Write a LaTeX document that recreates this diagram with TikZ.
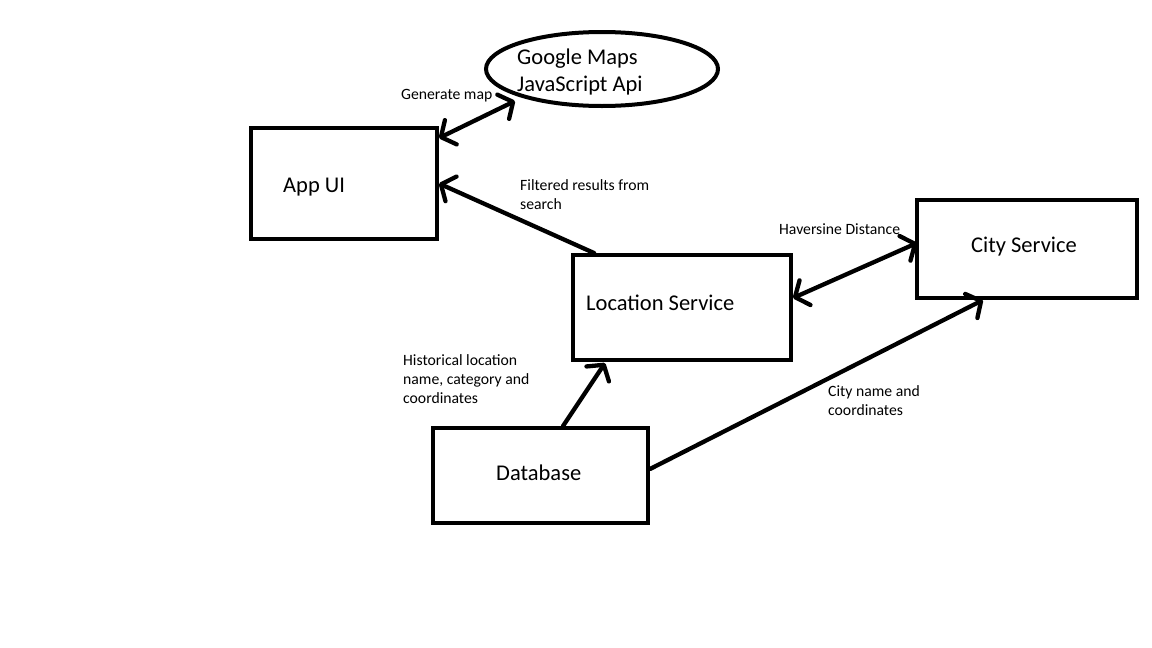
\documentclass[tikz,border=0pt]{standalone}
\usepackage{fontspec}
\setmainfont{Carlito}
\usetikzlibrary{arrows.meta,calc,shapes.geometric}
\begin{document}
\begin{tikzpicture}[x=1pt,y=-1pt,
  boxnode/.style={draw,line width=4pt,rectangle,inner sep=0pt},
  maintext/.style={anchor=west,inner sep=0pt,font=\fontsize{22.5}{27}\selectfont,align=left},
  lbl/.style={anchor=west,inner sep=0pt,font=\fontsize{15.7}{19}\selectfont,align=left},
  conn/.style={line width=4.3pt,line cap=round,line join=round},
  tip/.tip={Straight Barb[length=11pt,width=27pt,line width=4.3pt,round]}]
\useasboundingbox (0,0) rectangle (1152,648);
\fill[white] (0,0) rectangle (1152,648);
% boxes
\node[boxnode,minimum width=186pt,minimum height=111pt] (appui) at (344,183.5) {};
\node[boxnode,minimum width=218pt,minimum height=105pt] (loc) at (682,307.5) {};
\node[boxnode,minimum width=220pt,minimum height=98pt] (city) at (1027,249) {};
\node[boxnode,minimum width=215pt,minimum height=95pt] (db) at (540.5,475.5) {};
\node[draw,line width=4pt,ellipse,inner sep=0pt,minimum width=232pt,minimum height=74pt] (gm) at (602,69) {};
% box texts
\node[maintext] (tappui) at (283,187) {App UI};
\node[maintext] (tgm) at (517,72) {Google Maps\\JavaScript Api};
\node[maintext] (tloc) at (586,303) {Location Service};
\node[maintext] (tcity) at (971,247) {City Service};
\node[maintext] (tdb) at (496,473) {Database};
% labels
\node[lbl] (lgen) at (401,96) {Generate map};
\node[lbl] (lfilt) at (520,194.5) {Filtered results from\\search};
\node[lbl] (lhav) at (779,229) {Haversine Distance};
\node[lbl] (lhist) at (403,379) {Historical location\\name, category and\\coordinates};
\node[lbl] (lcity) at (828,400.5) {City name and\\coordinates};
% connectors
\draw[conn,{tip}-{tip}] ($(appui.north east)+(0,12)$) -- ($(gm.center)+(-87,32)$);
\draw[conn,-{tip}] ($(loc.north west)+(23,0)$) -- (appui.east);
\draw[conn,{tip}-{tip}] ($(loc.east)+(0,-9.5)$) -- ($(city.west)+(2,-6)$);
\draw[conn,-{tip}] ($(db.north)+(22.5,0)$) -- ($(loc.south west)+(34,1)$);
\draw[conn,-{tip}] ($(db.east)+(0,-6.5)$) -- ($(city.south west)+(68,0)$);
\end{tikzpicture}
\end{document}
